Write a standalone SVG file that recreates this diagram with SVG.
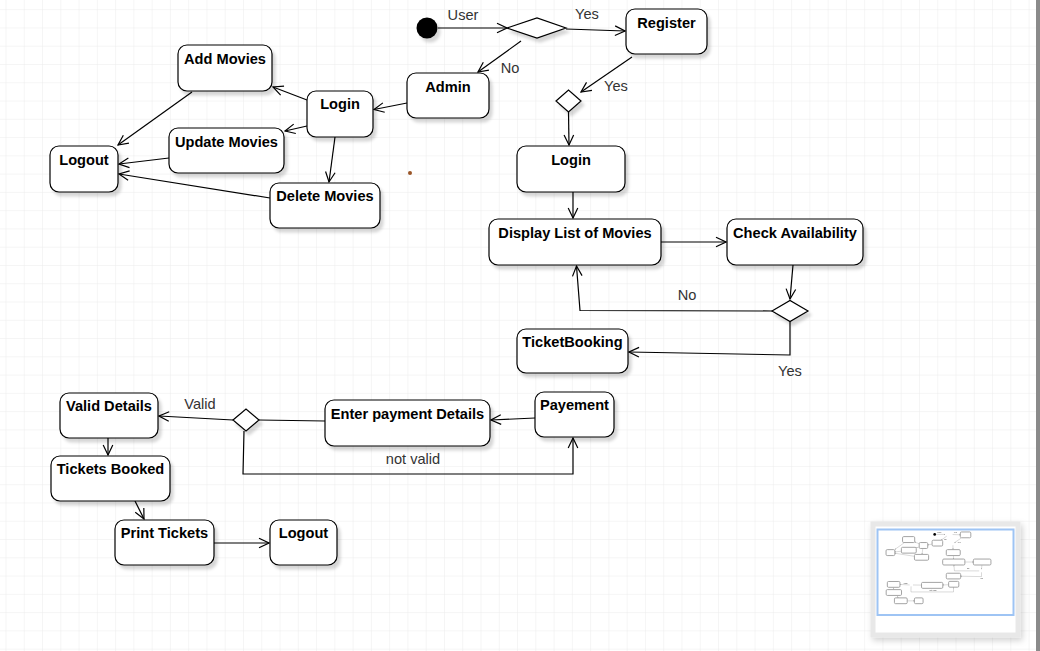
<svg xmlns="http://www.w3.org/2000/svg" xmlns:xlink="http://www.w3.org/1999/xlink" width="1040" height="651" viewBox="0 0 1040 651">
  <defs>
    <style>
      .node { fill: #ffffff; stroke: #000000; stroke-width: 1.2; filter: url(#shadow); }
      .label { font-family: "Liberation Sans", Arial, Helvetica, sans-serif; font-size: 14.6px; font-weight: bold; fill: #000000; text-anchor: middle; }
      .edge { fill: none; stroke: #000000; stroke-width: 1.2; }
      .arrow { marker-end: url(#open-arrow); }
      .edge-label { font-family: "Liberation Sans", Arial, Helvetica, sans-serif; font-size: 14.6px; fill: #333333; text-anchor: middle; }
      .mini-node { fill: #ffffff; stroke: #9a9a9a; stroke-width: 7; }
    </style>
    <pattern id="grid" patternUnits="userSpaceOnUse" x="5.5" y="9.2" width="18.27" height="18.27">
      <path d="M0 0 H18.27 M0 0 V18.27" fill="none" stroke="#ebebeb" stroke-width="1"/>
    </pattern>
    <filter id="shadow" x="-20%" y="-20%" width="150%" height="160%">
      <feDropShadow dx="3" dy="4" stdDeviation="1.5" flood-color="#000000" flood-opacity="0.16"/>
    </filter>
    <filter id="panel-shadow" x="-10%" y="-10%" width="125%" height="130%">
      <feDropShadow dx="2" dy="3" stdDeviation="3" flood-color="#000000" flood-opacity="0.18"/>
    </filter>
    <filter id="soften" x="-5%" y="-5%" width="110%" height="110%">
      <feGaussianBlur stdDeviation="0.5"/>
    </filter>
    <marker id="open-arrow" viewBox="0 0 12 12" refX="11" refY="6" markerWidth="12" markerHeight="12" markerUnits="userSpaceOnUse" orient="auto">
      <path d="M1,1.2 L11,6 L1,10.8" fill="none" stroke="#000000" stroke-width="1.2"/>
    </marker>
  </defs>

  <!-- canvas background with grid -->
  <rect x="0" y="0" width="1040" height="651" fill="#ffffff"/>
  <rect x="0" y="0" width="1040" height="651" fill="url(#grid)"/>

  <!-- connectors -->
  <g id="connectors">
    <path class="edge arrow" d="M438,28 L507,28"/>
    <path class="edge arrow" d="M566,29 L625,31"/>
    <path class="edge arrow" d="M521,41 L478,72"/>
    <path class="edge arrow" d="M632,57 L581,92"/>
    <path class="edge arrow" d="M568.5,112 L569,145"/>
    <path class="edge arrow" d="M573,192 L573,218"/>
    <path class="edge arrow" d="M661,242 L726,242"/>
    <path class="edge arrow" d="M793,265 L790,299"/>
    <path class="edge arrow" d="M772,311 L580,310.5 L576.5,266"/>
    <path class="edge arrow" d="M790,321.5 L790,355 L629,352"/>
    <path class="edge arrow" d="M407,103 L374,109.5"/>
    <path class="edge arrow" d="M307,100 L273,87"/>
    <path class="edge arrow" d="M307,126 L285,131"/>
    <path class="edge arrow" d="M335,137 L329,182"/>
    <path class="edge arrow" d="M192,92 L118,145"/>
    <path class="edge arrow" d="M169,158 L119,164"/>
    <path class="edge arrow" d="M270,198 L119,174"/>
    <path class="edge arrow" d="M535,418 L491,420"/>
    <path class="edge" d="M325,421 L259,420"/>
    <path class="edge arrow" d="M233,420 L159,416"/>
    <path class="edge arrow" d="M244,431 L243,474 L573,474 L573,438"/>
    <path class="edge arrow" d="M108,438 L108,455"/>
    <path class="edge arrow" d="M135,501 L144,519"/>
    <path class="edge arrow" d="M214,543 L269,543"/>

    <text class="edge-label" x="463" y="19.5">User</text>
    <text class="edge-label" x="587" y="19">Yes</text>
    <text class="edge-label" x="510" y="73">No</text>
    <text class="edge-label" x="616" y="91">Yes</text>
    <text class="edge-label" x="687" y="300">No</text>
    <text class="edge-label" x="790" y="376">Yes</text>
    <text class="edge-label" x="200" y="409">Valid</text>
    <text class="edge-label" x="413" y="464">not valid</text>
  </g>

  <!-- user flow -->
  <g id="start">
    <circle cx="427" cy="28" r="10.5" fill="#000000" filter="url(#shadow)"/>
  </g>
  <g id="decision-user">
    <polygon class="node" points="507,28 537,18 566,28 537,38"/>
  </g>
  <g id="register">
    <rect class="node" x="626" y="9" width="81" height="45" rx="9"/>
    <text class="label" x="666.5" y="27.5">Register</text>
  </g>
  <g id="admin">
    <rect class="node" x="407" y="73" width="82" height="45" rx="9"/>
    <text class="label" x="448" y="91.5">Admin</text>
  </g>
  <g id="decision-register">
    <polygon class="node" points="556,101 568.5,90 581,101 568.5,112"/>
  </g>
  <g id="login-user">
    <rect class="node" x="517" y="146" width="108" height="46" rx="9"/>
    <text class="label" x="571" y="164.5">Login</text>
  </g>
  <g id="display-movies">
    <rect class="node" x="489" y="219" width="172" height="46" rx="9"/>
    <text class="label" x="575" y="237.5">Display List of Movies</text>
  </g>
  <g id="check-availability">
    <rect class="node" x="727" y="219" width="136" height="46" rx="9"/>
    <text class="label" x="795" y="237.5">Check Availability</text>
  </g>
  <g id="decision-availability">
    <polygon class="node" points="772,311 790,300.5 808,311 790,321.5"/>
  </g>
  <g id="ticket-booking">
    <rect class="node" x="517" y="329" width="111" height="44" rx="9"/>
    <text class="label" x="572.5" y="346.5">TicketBooking</text>
  </g>

  <!-- admin flow -->
  <g id="login-admin">
    <rect class="node" x="307" y="91" width="66" height="46" rx="9"/>
    <text class="label" x="340" y="109">Login</text>
  </g>
  <g id="add-movies">
    <rect class="node" x="178" y="45" width="94" height="46" rx="9"/>
    <text class="label" x="225" y="63.5">Add Movies</text>
  </g>
  <g id="update-movies">
    <rect class="node" x="169" y="128" width="115" height="45" rx="9"/>
    <text class="label" x="226.5" y="146.5">Update Movies</text>
  </g>
  <g id="logout-admin">
    <rect class="node" x="50" y="146" width="68" height="46" rx="9"/>
    <text class="label" x="84" y="164.5">Logout</text>
  </g>
  <g id="delete-movies">
    <rect class="node" x="270" y="183" width="110" height="45" rx="9"/>
    <text class="label" x="325" y="200.5">Delete Movies</text>
  </g>

  <!-- payment flow -->
  <g id="valid-details">
    <rect class="node" x="60" y="393" width="98" height="45" rx="9"/>
    <text class="label" x="109" y="410.5">Valid Details</text>
  </g>
  <g id="decision-payment">
    <polygon class="node" points="233,420 246,409 259,420 246,431"/>
  </g>
  <g id="enter-payment">
    <rect class="node" x="325" y="400" width="165" height="46" rx="9"/>
    <text class="label" x="407.5" y="419">Enter payment Details</text>
  </g>
  <g id="payment">
    <rect class="node" x="535" y="392" width="79" height="45" rx="9"/>
    <text class="label" x="574.5" y="410">Payement</text>
  </g>
  <g id="tickets-booked">
    <rect class="node" x="51" y="456" width="119" height="45" rx="9"/>
    <text class="label" x="110.5" y="474">Tickets Booked</text>
  </g>
  <g id="print-tickets">
    <rect class="node" x="115" y="520" width="99" height="45" rx="9"/>
    <text class="label" x="164.5" y="538">Print Tickets</text>
  </g>
  <g id="logout-user">
    <rect class="node" x="270" y="520" width="67" height="45" rx="9"/>
    <text class="label" x="303.5" y="538">Logout</text>
  </g>

  <!-- stray point on the canvas -->
  <circle cx="410" cy="173" r="2" fill="#9a5528"/>

  <!-- outline panel -->
  <g id="outline">
    <rect x="873" y="524" width="145" height="111" fill="#ffffff" stroke="#e8e8e8" stroke-width="5" filter="url(#panel-shadow)"/>
    <g transform="translate(879.6,530.8) scale(0.129)" filter="url(#soften)">
      <use xlink:href="#connectors" href="#connectors"/>
      <circle cx="427" cy="28" r="10.5" fill="#000000"/>
      <rect class="mini-node" x="626" y="9" width="81" height="45" rx="9"/>
      <rect class="mini-node" x="407" y="73" width="82" height="45" rx="9"/>
      <rect class="mini-node" x="517" y="146" width="108" height="46" rx="9"/>
      <rect class="mini-node" x="489" y="219" width="172" height="46" rx="9"/>
      <rect class="mini-node" x="727" y="219" width="136" height="46" rx="9"/>
      <rect class="mini-node" x="517" y="329" width="111" height="44" rx="9"/>
      <rect class="mini-node" x="307" y="91" width="66" height="46" rx="9"/>
      <rect class="mini-node" x="178" y="45" width="94" height="46" rx="9"/>
      <rect class="mini-node" x="169" y="128" width="115" height="45" rx="9"/>
      <rect class="mini-node" x="50" y="146" width="68" height="46" rx="9"/>
      <rect class="mini-node" x="270" y="183" width="110" height="45" rx="9"/>
      <rect class="mini-node" x="60" y="393" width="98" height="45" rx="9"/>
      <rect class="mini-node" x="325" y="400" width="165" height="46" rx="9"/>
      <rect class="mini-node" x="535" y="392" width="79" height="45" rx="9"/>
      <rect class="mini-node" x="51" y="456" width="119" height="45" rx="9"/>
      <rect class="mini-node" x="115" y="520" width="99" height="45" rx="9"/>
      <rect class="mini-node" x="270" y="520" width="67" height="45" rx="9"/>
    </g>
    <rect x="877.5" y="529.5" width="136" height="85.5" fill="none" stroke="#9ec4f4" stroke-width="2"/>
  </g>

  <!-- window edge -->
  <rect x="1036" y="0" width="4" height="651" fill="#8a8a8a"/>
</svg>
